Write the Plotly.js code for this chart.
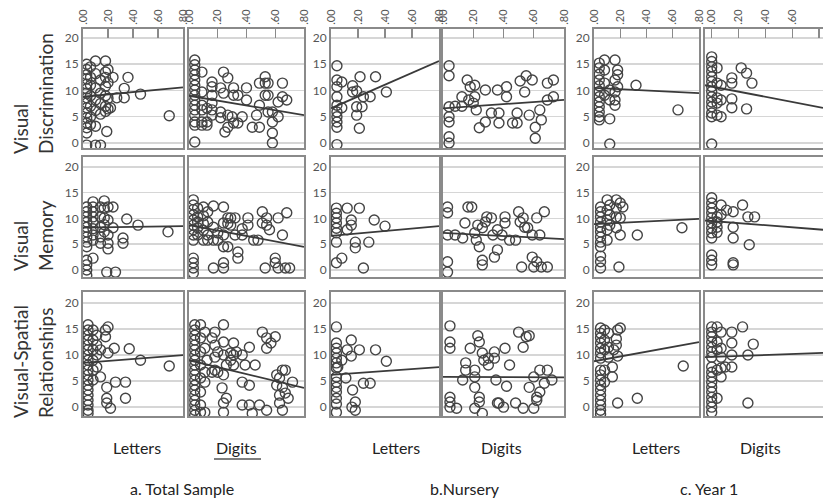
<!DOCTYPE html>
<html>
<head>
<meta charset="utf-8">
<script src="https://cdn.plot.ly/plotly-3.0.1.min.js"></script>
<style>html,body{margin:0;padding:0;background:#fff}#chart{width:823px;height:502px}</style>
</head>
<body>
<div id="chart"></div>
<script>
// ---------- DATA (x = proportion score, y = perceptual score) ----------
const rowLabels = ["Visual<br>Discrimination", "Visual<br>Memory", "Visual-Spatial<br>Relationships"];
const colLabels = ["Letters", "Digits", "Letters", "Digits", "Letters", "Digits"];
const groupLabels = ["a. Total Sample", "b.Nursery", "c. Year 1"];
const xTickVals = [0, 0.2, 0.4, 0.6, 0.8];
const xTickText = [".00", ".20", ".40", ".60", ".80"];
const yTickVals = [0, 5, 10, 15, 20];

// Row 1: Visual Discrimination
const vdTotalLetters = [[0.03,15],[0.03,14],[0.03,13],[0.03,12.2],[0.03,11.2],[0.03,10.3],[0.03,9.5],[0.03,8.6],[0.03,7.6],[0.03,6.7],[0.03,5.7],[0.03,4.8],[0.03,3.8],[0.03,2.9],[0.03,1.9],[0.03,-0.4],
 [0.06,14.5],[0.06,12.5],[0.06,11],[0.06,9],[0.06,7],[0.06,5],[0.06,3.5],
 [0.1,15.6],[0.1,13.2],[0.1,10.5],[0.1,8.2],[0.1,6.2],[0.1,3.2],[0.1,-0.4],
 [0.14,12],[0.14,9.5],[0.14,7.5],[0.14,5.5],[0.14,-0.4],
 [0.18,15.6],[0.18,13.5],[0.18,12.5],[0.18,10.8],[0.18,9],[0.18,7],[0.18,6],[0.19,2.2],
 [0.2,14],[0.2,11.5],[0.2,8.5],[0.2,6.5],
 [0.24,12.5],[0.36,12.5],[0.33,10.4],[0.33,8.6],[0.27,8.6],[0.22,6.7],[0.46,9.3],[0.69,5.2]];
const vdTotalDigits = [[0.04,15.8],[0.04,14.9],[0.04,13.9],[0.04,13],[0.04,12],[0.04,11],[0.04,10.1],[0.04,9.1],[0.04,8.2],[0.04,7.2],[0.04,6.3],[0.04,5.3],[0.04,4],[0.04,3.4],[0.04,0.2],
 [0.09,13.5],[0.09,9.7],[0.09,7.2],[0.09,6.3],[0.09,4],[0.09,3.4],
 [0.125,6.6],[0.125,4],[0.125,3.4],
 [0.16,11.6],[0.16,10.7],[0.16,9.1],[0.16,7.6],[0.16,6.3],[0.16,5.3],
 [0.22,10.5],[0.22,5.9],[0.22,4.8],
 [0.24,13.5],[0.27,12.4],[0.24,9.5],[0.25,2.1],[0.27,3],[0.27,5.3],[0.3,5],
 [0.31,10.5],[0.31,9.1],[0.31,3.8],[0.34,9.1],[0.34,3.8],[0.37,5],
 [0.4,10.5],[0.4,8.2],[0.44,3],[0.47,5.3],
 [0.49,11.4],[0.49,7.2],[0.49,3],
 [0.53,12.6],[0.53,11.4],[0.53,9.1],[0.55,11.4],[0.55,9.1],[0.55,5.9],
 [0.58,5.9],[0.58,4],[0.58,1.9],[0.58,0],[0.62,7.8],[0.62,5],[0.65,11.4],[0.65,8.8],[0.68,8.2]];
const vdNurseryLetters = [[0.044,14.7],[0.044,12],[0.044,10.7],[0.044,8.8],[0.044,7.2],[0.044,5.9],[0.044,5],[0.044,4],[0.044,3],[0.044,-0.3],
 [0.08,11.6],[0.08,6.7],[0.16,10.9],[0.16,9.7],[0.19,9.9],[0.19,6.9],[0.19,5.3],[0.21,2.8],[0.23,6.9],
 [0.215,12.6],[0.33,12.6],[0.24,8.8],[0.29,8.8],[0.41,9.7]];
const vdNurseryDigits = [[0.04,14.7],[0.04,12.8],[0.04,6.9],[0.04,5],[0.04,4],[0.04,1.2],[0.04,0],
 [0.08,7],[0.125,7],[0.16,12],[0.18,10.7],[0.125,8.8],[0.17,8.2],[0.2,7.6],[0.21,11],[0.21,8.8],[0.22,6.3],
 [0.24,2.9],[0.28,4],[0.28,10.1],[0.32,5.7],[0.36,10.1],[0.37,5.7],[0.37,3.8],[0.42,10.7],[0.42,8.8],
 [0.46,3.8],[0.49,5.7],[0.49,3.8],[0.51,11.8],[0.55,12.8],[0.54,9.7],[0.59,12],[0.57,5.3],[0.61,3],[0.61,0.9],
 [0.64,6.3],[0.65,4.4],[0.69,11.4],[0.69,8.2],[0.73,12],[0.73,8.8]];
const vdYear1Letters = [[0.04,15.2],[0.04,14.3],[0.04,13.1],[0.04,12],[0.04,10.9],[0.04,9.8],[0.04,8.8],[0.04,7.8],[0.04,6.9],[0.04,5.9],[0.04,5],[0.04,4.4],
 [0.08,15.8],[0.08,13.9],[0.08,11.4],[0.08,9.1],[0.12,4.6],[0.12,8.2],[0.12,10.1],[0.12,-0.2],
 [0.16,15.8],[0.16,12],[0.16,9.7],[0.16,8.2],[0.16,7.2],[0.18,13.9],[0.18,13],[0.18,10.7],
 [0.32,11],[0.64,6.3]];
const vdYear1Digits = [[0,16.4],[0,15.5],[0,14.5],[0,13.6],[0,12.6],[0,11.7],[0,10.7],[0,9.8],[0,8.8],[0,7.8],[0,6.9],[0,5.7],[0,5],[0,-0.2],
 [0.04,14.3],[0.04,11.4],[0.04,8.6],[0.04,7.6],[0.04,5.3],[0.07,11],[0.07,8.2],[0.07,5],
 [0.15,12.4],[0.15,11.4],[0.15,8.4],[0.15,6.7],[0.22,14.3],[0.26,13.3],[0.26,6.5],[0.3,11.4]];

// Row 2: Visual Memory
const vmTotalLetters = [[0.03,12.2],[0.03,11.3],[0.03,10.3],[0.03,9.3],[0.03,8.3],[0.03,7.4],[0.03,6.4],[0.03,5.4],[0.03,4.5],[0.03,1.9],[0.03,1],[0.03,0],[0.03,-1],
 [0.08,13.2],[0.08,12.2],[0.08,11.3],[0.08,10.3],[0.08,9.3],[0.08,8],[0.08,6.8],[0.08,5.8],[0.08,2.3],
 [0.14,12.2],[0.14,10.3],[0.14,8.3],[0.14,6.4],[0.14,5.2],
 [0.17,13.4],[0.17,12],[0.17,10.1],[0.17,8.8],[0.17,7.4],
 [0.2,12.2],[0.2,9.7],[0.2,6.8],[0.2,5.2],[0.2,4.1],[0.24,12.2],[0.24,8.2],
 [0.19,-0.4],[0.26,-0.4],[0.32,6.2],[0.32,5.2],[0.35,9.9],[0.44,8.7],[0.68,7.4]];
const vmTotalDigits = [[0.03,13.6],[0.03,12.6],[0.03,11.7],[0.03,10.7],[0.03,9.7],[0.03,8.7],[0.03,7.8],[0.03,6.8],[0.03,5.8],[0.03,2.3],[0.03,1.4],[0.03,0.4],[0.03,-0.6],
 [0.06,12],[0.06,10.3],[0.06,9.3],[0.06,8.2],[0.06,6.8],
 [0.1,12.2],[0.1,10.5],[0.1,9],[0.1,7.7],[0.1,5.8],
 [0.13,11.3],[0.13,9.3],[0.13,6.8],[0.13,5.8],
 [0.17,12.4],[0.17,8.3],[0.17,5.8],[0.17,0.4],[0.2,7.2],[0.2,5.8],
 [0.24,12.2],[0.24,9.1],[0.24,6.8],[0.24,4.5],[0.24,1.4],[0.24,0.4],
 [0.27,10.1],[0.27,9],[0.27,4.5],[0.29,10.1],[0.29,8.7],[0.32,10.1],[0.32,6.8],
 [0.34,2.3],[0.34,3.5],[0.37,8],[0.37,6.8],[0.41,10.1],[0.41,8.7],[0.45,5.8],[0.48,5.8],
 [0.51,11.3],[0.51,9.1],[0.53,0.4],[0.54,10.1],[0.54,8.7],[0.56,7.8],[0.6,2.3],[0.6,1.4],
 [0.62,10.1],[0.62,0.4],[0.65,6.8],[0.67,0.4],[0.68,11.1],[0.7,0.4]];
const vmNurseryLetters = [[0.04,12],[0.04,11],[0.04,10.1],[0.04,9.1],[0.04,8.1],[0.04,7.2],[0.04,5.4],[0.04,1.4],
 [0.08,2.3],[0.12,12],[0.12,7.8],[0.15,9.7],[0.15,8.7],[0.18,5.4],[0.18,4.3],[0.21,12],[0.24,0.4],[0.28,5.4],[0.32,9.7],[0.4,8.5]];
const vmNurseryDigits = [[0.03,12.2],[0.03,11.1],[0.03,6.8],[0.03,1.6],[0.03,-0.4],[0.08,6.8],[0.13,6.2],[0.165,12.2],[0.145,9.1],
 [0.19,12.2],[0.21,7.2],[0.22,5.8],[0.24,4.5],[0.23,8.7],[0.26,8.2],[0.28,9.3],[0.29,10.3],[0.32,10.1],
 [0.34,2.5],[0.36,3.9],[0.33,6.8],[0.36,7.8],[0.39,6.8],[0.41,10.3],[0.41,9.1],[0.44,5.8],[0.48,5.8],
 [0.5,11.3],[0.51,9.3],[0.53,10.1],[0.54,8.3],[0.56,8.2],[0.59,6.8],[0.62,10.1],[0.64,6.8],[0.67,11.3],
 [0.52,0.6],[0.59,2.5],[0.6,0.6],[0.62,1.6],[0.65,0.6],[0.69,0.6],[0.26,1],[0.26,1.9]];
const vmYear1Letters = [[0.05,12.2],[0.05,11.3],[0.05,10.3],[0.05,9.3],[0.05,8.3],[0.05,7.4],[0.05,6.4],[0.05,5.4],[0.05,4.5],[0.05,2.7],[0.05,1.6],[0.05,0.4],
 [0.1,13.6],[0.1,11.6],[0.1,9.7],[0.1,7.8],[0.1,5.8],[0.12,12.6],[0.12,10.7],[0.12,8.7],
 [0.17,13.6],[0.17,12],[0.17,10.3],[0.17,8.2],[0.2,13],[0.2,10.1],[0.2,6.8],[0.22,12.2],[0.19,0.6],[0.33,6.8],[0.67,8.2]];
const vmYear1Digits = [[0,14],[0,13],[0,12],[0,11.1],[0,10.1],[0,9.1],[0,8.1],[0,7.2],[0,6.2],[0,2.9],[0,1.9],[0,1],
 [0.04,10.3],[0.04,9.3],[0.04,8.3],[0.04,7.3],[0.07,12.6],[0.07,10.7],[0.11,11.6],
 [0.16,11.3],[0.16,8.3],[0.16,6.2],[0.16,1],[0.16,1.4],[0.23,12.6],[0.28,4.9],[0.27,10.3],[0.32,10.3]];

// Row 3: Visual-Spatial Relationships
const vsTotalLetters = [[0.04,15.8],[0.04,14.8],[0.04,13.8],[0.04,12.9],[0.04,11.9],[0.04,11],[0.04,10],[0.04,9],[0.04,8.1],[0.04,7.1],[0.04,6.2],[0.04,5.2],[0.04,4.2],[0.04,3.3],[0.04,2.3],[0.04,1.3],[0.04,0.4],[0.04,-0.6],[0.04,-1.2],
 [0.08,14.8],[0.08,12.9],[0.08,11],[0.08,9],[0.08,7.1],[0.08,5.2],
 [0.11,13.8],[0.11,11.9],[0.11,10],[0.11,7.7],[0.14,11],[0.14,5.8],
 [0.18,14.8],[0.18,13.5],[0.2,15.4],[0.2,10.4],[0.19,3.8],[0.19,1.7],[0.19,0.8],[0.22,-0.2],
 [0.25,11.3],[0.26,4.8],[0.34,4.8],[0.34,1.7],[0.37,11.2],[0.46,9],[0.69,7.9]];
const vsTotalDigits = [[0.04,15.8],[0.04,14.8],[0.04,13.8],[0.04,12.9],[0.04,11.9],[0.04,11],[0.04,10],[0.04,9],[0.04,8.1],[0.04,7.1],[0.04,6.2],[0.04,5.2],[0.04,4.2],[0.04,3.3],[0.04,2.3],[0.04,1.3],[0.04,0.4],[0.04,-0.6],[0.04,-1.5],
 [0.08,15.8],[0.08,13.3],[0.08,10.6],[0.08,8.1],[0.08,5.6],[0.08,2.9],[0.08,0.4],[0.08,-1],
 [0.11,14.4],[0.11,11.3],[0.11,6.7],[0.11,4.8],[0.11,-1],[0.125,9],
 [0.16,13.3],[0.16,6.7],[0.18,14.4],[0.18,11.9],[0.18,9.6],[0.18,7.1],[0.2,10.6],[0.2,6.7],
 [0.24,15.8],[0.24,12.5],[0.24,10],[0.24,6.2],[0.24,0.8],[0.24,-1],[0.23,3.7],[0.26,8.1],[0.26,1.7],
 [0.29,10.4],[0.29,9],[0.31,12.3],[0.31,10],[0.31,8.1],[0.33,10.6],
 [0.37,10],[0.37,4.8],[0.37,0.4],[0.39,8.1],[0.42,11.5],[0.42,4.2],[0.42,0.4],[0.44,-1.2],[0.46,8.1],[0.49,0.4],
 [0.51,14.4],[0.54,13.3],[0.54,11.3],[0.54,-0.6],[0.57,12.3],[0.6,13.5],[0.61,6.2],[0.61,4.2],
 [0.63,5.6],[0.63,2.3],[0.63,0.8],[0.65,7.1],[0.65,3.8],[0.65,-0.6],[0.67,7.1],[0.67,2.7],[0.69,1.7],[0.72,4.8]];
const vsNurseryLetters = [[0.04,15.4],[0.04,12.3],[0.04,11.3],[0.04,10.4],[0.04,9.4],[0.04,8.5],[0.04,7.5],[0.04,5.8],[0.04,4.8],[0.04,3.8],[0.04,2.9],[0.04,1.7],[0.04,0.6],[0.04,-1],
 [0.05,7.7],[0.08,9],[0.11,5.6],[0.12,11],[0.15,12.9],[0.15,9.8],[0.16,3.3],[0.155,0],[0.18,1],[0.18,-0.6],
 [0.21,11],[0.24,4.6],[0.29,4.6],[0.33,11],[0.41,8.8]];
const vsNurseryDigits = [[0.046,15.6],[0.046,12.5],[0.046,11.3],[0.046,1.9],[0.046,1],[0.046,0],[0.09,-0.2],
 [0.13,5.2],[0.15,8.5],[0.15,7.1],[0.18,11.3],[0.21,7.1],[0.21,5.8],[0.21,3.8],[0.21,-0.2],
 [0.23,13.7],[0.24,12.5],[0.24,1.9],[0.24,1],[0.26,10.4],[0.27,9],[0.26,-1.2],[0.3,8.1],[0.3,9.4],
 [0.34,10.6],[0.34,9.4],[0.36,0.8],[0.35,5.2],[0.37,0.8],[0.4,0],[0.41,11.3],[0.42,4],[0.44,8.1],[0.48,0.8],
 [0.5,14.4],[0.53,-0.2],[0.53,11.5],[0.55,13.5],[0.57,13.7],[0.57,3.8],[0.6,5.8],[0.6,-0.2],
 [0.62,1.3],[0.62,1.9],[0.64,7.1],[0.64,2.9],[0.67,4.6],[0.69,7.1],[0.72,5.2]];
const vsYear1Letters = [[0.05,15.2],[0.05,14.2],[0.05,13.3],[0.05,12.3],[0.05,11.3],[0.05,10.4],[0.05,9.4],[0.05,7.1],[0.05,6.2],[0.05,5.2],[0.05,4.2],[0.05,3.3],[0.05,2.3],[0.05,1.3],[0.05,0.4],[0.05,-0.6],[0.05,-1.3],
 [0.08,14.8],[0.08,12.9],[0.08,11],[0.08,7.1],[0.08,4.8],[0.11,14.2],[0.11,11.5],[0.11,9.6],
 [0.14,7.7],[0.14,5.8],[0.15,11],[0.17,13.1],[0.17,11.9],[0.18,14.8],[0.18,9.8],[0.2,15.2],[0.18,0.8],[0.33,1.7],[0.68,7.9]];
const vsYear1Digits = [[0,15.4],[0,14.4],[0,13.5],[0,12.5],[0,11.5],[0,10.6],[0,9.6],[0,7.7],[0,6.7],[0,5.8],[0,4.8],[0,3.8],[0,2.9],[0,1.9],[0,1],[0,0],[0,-1],
 [0.04,15.4],[0.04,12.5],[0.04,11],[0.04,7.1],[0.04,1.7],[0.07,14.4],[0.07,11.3],[0.07,9.6],[0.07,7.5],[0.1,7.7],[0.07,5.8],
 [0.15,14.4],[0.15,12.3],[0.15,10],[0.15,7.7],[0.23,15.4],[0.27,10],[0.27,0.8],[0.31,12.1]];

// fitted regression lines: [value at left of x-range, value at right of x-range]
const vdFits = [[8.8,10.6],[9.0,5.3],[6.6,15.6],[6.6,8.2],[10.5,9.5],[11.0,6.7]];
const vmFits = [[8.2,8.5],[8.7,4.5],[6.6,8.5],[7.2,6.0],[8.9,9.9],[9.6,7.8]];
const vsFits = [[8.5,10.0],[9.0,3.7],[6.2,7.7],[5.8,5.7],[8.8,12.5],[9.6,10.4]];

// ---------- LAYOUT GEOMETRY ----------
const W = 823, H = 502;
const colPx = [[83,183],[189,304],[331,439],[443,564],[594,699],[705,823]];
const rowPx = [[29,148],[157,277],[292,416]];
const yRanges = [[-0.95,21.7],[-1.35,21.9],[-1.7,22.1]];
const xRanges = [[0,0.8],[0,0.8],[0,0.8],[0,0.8],[0,0.8],[-0.05,0.83]];

const panelData = [
  [vdTotalLetters, vdTotalDigits, vdNurseryLetters, vdNurseryDigits, vdYear1Letters, vdYear1Digits],
  [vmTotalLetters, vmTotalDigits, vmNurseryLetters, vmNurseryDigits, vmYear1Letters, vmYear1Digits],
  [vsTotalLetters, vsTotalDigits, vsNurseryLetters, vsNurseryDigits, vsYear1Letters, vsYear1Digits]
];
const panelFits = [vdFits, vmFits, vsFits];

const frameColor = '#8a8a8a';
const gridColor = '#d6d6d6';
const markColor = '#444444';
const fontFam = 'Lato, "Open Sans", sans-serif';

const traces = [];
const layout = {
  width: W, height: H,
  margin: {l:0, r:0, t:0, b:0},
  paper_bgcolor: '#ffffff', plot_bgcolor: '#ffffff',
  showlegend: false,
  font: {family: fontFam, color: '#333'},
  annotations: [], shapes: []
};

for (let r = 0; r < 3; r++) {
  for (let c = 0; c < 6; c++) {
    const i = r*6 + c + 1;
    const xs = i === 1 ? 'x' : 'x' + i;
    const ys = i === 1 ? 'y' : 'y' + i;
    const pts = panelData[r][c];
    traces.push({
      type: 'scatter', mode: 'markers', xaxis: xs, yaxis: ys,
      x: pts.map(p => p[0]), y: pts.map(p => p[1]),
      marker: {symbol: 'circle-open', size: 10, color: markColor, line: {width: 1.4}},
      hoverinfo: 'skip'
    });
    traces.push({
      type: 'scatter', mode: 'lines', xaxis: xs, yaxis: ys,
      x: xRanges[c], y: panelFits[r][c],
      line: {color: '#3a3a3a', width: 1.8}, hoverinfo: 'skip'
    });
    const xa = {
      domain: [colPx[c][0]/W, colPx[c][1]/W], range: xRanges[c], anchor: ys,
      side: 'top', showgrid: false, zeroline: false,
      showline: true, mirror: true, linecolor: frameColor, linewidth: 2,
      tickvals: xTickVals, ticktext: xTickText,
      ticks: r === 0 ? 'inside' : '', ticklen: 9, tickcolor: frameColor, tickwidth: 1.2,
      showticklabels: r === 0, tickangle: -90,
      tickfont: {size: 11, color: '#555', family: fontFam}
    };
    const ya = {
      domain: [1 - rowPx[r][1]/H, 1 - rowPx[r][0]/H], range: yRanges[r], anchor: xs,
      tickvals: yTickVals, showticklabels: c % 2 === 0,
      tickfont: {size: 12, color: '#555', family: fontFam},
      showgrid: true, gridcolor: gridColor, gridwidth: 1.5, zeroline: false,
      showline: true, mirror: true, linecolor: frameColor, linewidth: 2, ticks: ''
    };
    layout[i === 1 ? 'xaxis' : 'xaxis' + i] = xa;
    layout[i === 1 ? 'yaxis' : 'yaxis' + i] = ya;
  }
}

// Row labels
const rowLabelCenters = [94, 236, 362];
rowLabels.forEach((t, r) => {
  layout.annotations.push({
    text: t, textangle: -90, align: 'left', showarrow: false,
    xref: 'paper', yref: 'paper', x: 33/W, y: 1 - rowLabelCenters[r]/H,
    xanchor: 'center', yanchor: 'middle',
    font: {size: 19, color: '#333', family: fontFam}
  });
});
// Column labels
const colLabelX = [137, 237, 396, 501, 656, 760];
colLabels.forEach((t, c) => {
  layout.annotations.push({
    text: t, showarrow: false, xref: 'paper', yref: 'paper',
    x: colLabelX[c]/W, y: 1 - 447/H, xanchor: 'center', yanchor: 'middle',
    font: {size: 16, color: '#222', family: fontFam}
  });
});
// Group captions
const groupX = [182, 465, 709];
groupLabels.forEach((t, g) => {
  layout.annotations.push({
    text: t, showarrow: false, xref: 'paper', yref: 'paper',
    x: groupX[g]/W, y: 1 - 488/H, xanchor: 'center', yanchor: 'middle',
    font: {size: 16, color: '#222', family: fontFam}
  });
});
// underline under first "Digits"
layout.shapes.push({type: 'line', xref: 'paper', yref: 'paper',
  x0: 214/W, x1: 261/W, y0: 1 - 459/H, y1: 1 - 459/H,
  line: {color: '#555', width: 1.5}});

Plotly.newPlot('chart', traces, layout, {displayModeBar: false, staticPlot: true});
</script>
</body>
</html>
